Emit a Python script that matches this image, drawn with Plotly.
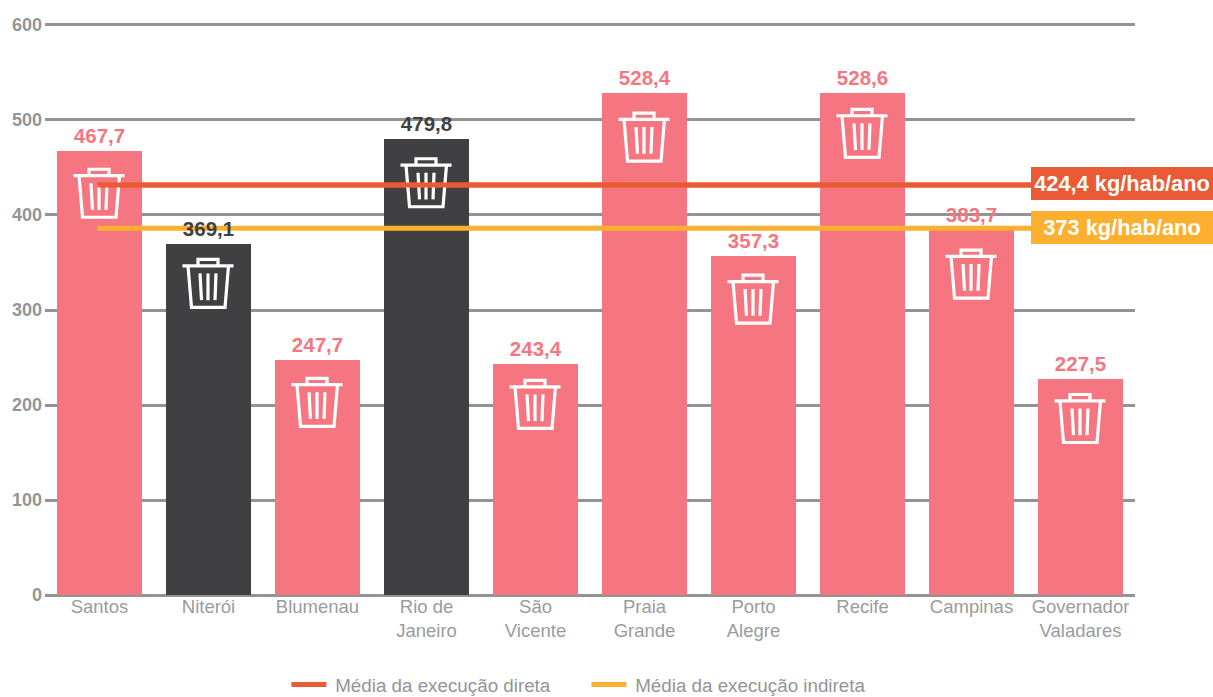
import plotly.graph_objects as go

categories = ["Santos", "Niterói", "Blumenau", "Rio de<br>Janeiro", "São<br>Vicente", "Praia<br>Grande",
              "Porto<br>Alegre", "Recife", "Campinas", "Governador<br>Valadares"]
values = [467.7, 369.1, 247.7, 479.8, 243.4, 528.4, 357.3, 528.6, 383.7, 227.5]
labels = ["467,7", "369,1", "247,7", "479,8", "243,4", "528,4", "357,3", "528,6", "383,7", "227,5"]
group = ["i", "d", "i", "d", "i", "i", "i", "i", "i", "i"]
direct_y = [431.5, 431.5]
indirect_y = [386, 386]
avg_x = [-0.02, 8.55]
yticks = [0, 100, 200, 300, 400, 500, 600]
direct_name = "Média da execução direta"
indirect_name = "Média da execução indireta"
direct_label = "424,4 kg/hab/ano"
indirect_label = "373 kg/hab/ano"

PINK = "#f57680"
DARK = "#404042"
RED = "#e95a35"
ORANGE = "#fdb030"
GREY = "#939598"
FONT = "Liberation Sans"

x = list(range(len(categories)))
colors = [DARK if g == "d" else PINK for g in group]

fig = go.Figure()
fig.add_bar(x=x, y=values, width=0.78, marker=dict(color=colors, line_width=0), showlegend=False, hoverinfo="skip")
fig.add_scatter(x=avg_x, y=direct_y, mode="lines", name="\u2009" + direct_name, line=dict(color=RED, width=5))
fig.add_scatter(x=avg_x, y=indirect_y, mode="lines", name="\u2009" + indirect_name, line=dict(color=ORANGE, width=5))
fig.add_scatter(x=x, y=values, mode="text+markers", text=labels, textposition="top center",
                marker=dict(size=3, opacity=0), cliponaxis=False,
                textfont=dict(family=FONT, size=20.5, color=colors, weight="bold"), showlegend=False, hoverinfo="skip")


def icon_path(dy):
    """Trash-can pictogram in pixel offsets from the top-centre of a bar (y up)."""
    pts = [
        [(-26, -25), (25, -25)],
        [(-10.5, -25), (-10.5, -18.6), (9.5, -18.6), (9.5, -25)],
        [(-20.5, -25), (-17, -66.6), (16.5, -66.6), (20, -25)],
        [(-8.5, -32.6), (-7, -59.3)],
        [(-0.5, -32.6), (-0.5, -59.3)],
        [(7.5, -32.6), (6.5, -59.3)],
    ]
    return " ".join("M" + " L".join(f"{px},{py + dy}" for px, py in seg) for seg in pts)


icon_nudge = [0, 3.5, 0, -1, 2, -1.5, -1, 2, -1, 3]
for xi, v, dy in zip(x, values, icon_nudge):
    fig.add_shape(type="path", xref="x", yref="y", xsizemode="pixel", ysizemode="pixel",
                  xanchor=xi, yanchor=v, path=icon_path(dy), line=dict(color="white", width=3.2), layer="above")
# the direct-execution average passes in front of the pictograms
fig.add_shape(type="line", xref="x", yref="y", x0=avg_x[0], x1=avg_x[1], y0=direct_y[0], y1=direct_y[1],
              line=dict(color=RED, width=5), layer="above")

for txt, yv, col, ys in [(direct_label, direct_y[0], RED, 2), (indirect_label, indirect_y[0], ORANGE, 1)]:
    fig.add_annotation(x=avg_x[1], y=yv, xref="x", yref="y", text=f"<b>{txt}</b>", showarrow=False,
                       xanchor="left", yanchor="middle", width=182, height=33, bgcolor=col, align="center",
                       yshift=ys, borderpad=0, borderwidth=0, font=dict(family=FONT, size=21.8, color="white"))

fig.update_layout(
    width=1213, height=697, autosize=False, paper_bgcolor="white", plot_bgcolor="white",
    margin=dict(l=45, r=78, t=23.1, b=99.6, autoexpand=False), bargap=0,
    font=dict(family=FONT, color=GREY),
    legend=dict(orientation="h", x=0.2215, y=-0.12, xanchor="left", yanchor="top", itemwidth=35,
                entrywidth=250, entrywidthmode="pixels", font=dict(family=FONT, size=18.8, color=GREY),
                bgcolor="rgba(0,0,0,0)"),
    xaxis=dict(range=[-0.5, 9.5], tickmode="array", tickvals=x, ticktext=categories, showgrid=False, zeroline=False,
               showline=False, ticks="", tickangle=0, ticklabelstandoff=-4,
               tickfont=dict(family=FONT, size=18.5, color="#9a9b9d")),
    yaxis=dict(range=[-2, 602], tickmode="array", tickvals=yticks, ticktext=[f"<b>{t}</b>" for t in yticks],
               showgrid=True, gridcolor="#939393", gridwidth=2.5, zeroline=False, showline=False, ticks="",
               ticklabelstandoff=2, tickfont=dict(family=FONT, size=18, color=GREY)),
)
fig.write_html("out.html", config={"displayModeBar": False},
               post_script="document.body.style.margin='0';document.body.style.overflow='hidden';")
